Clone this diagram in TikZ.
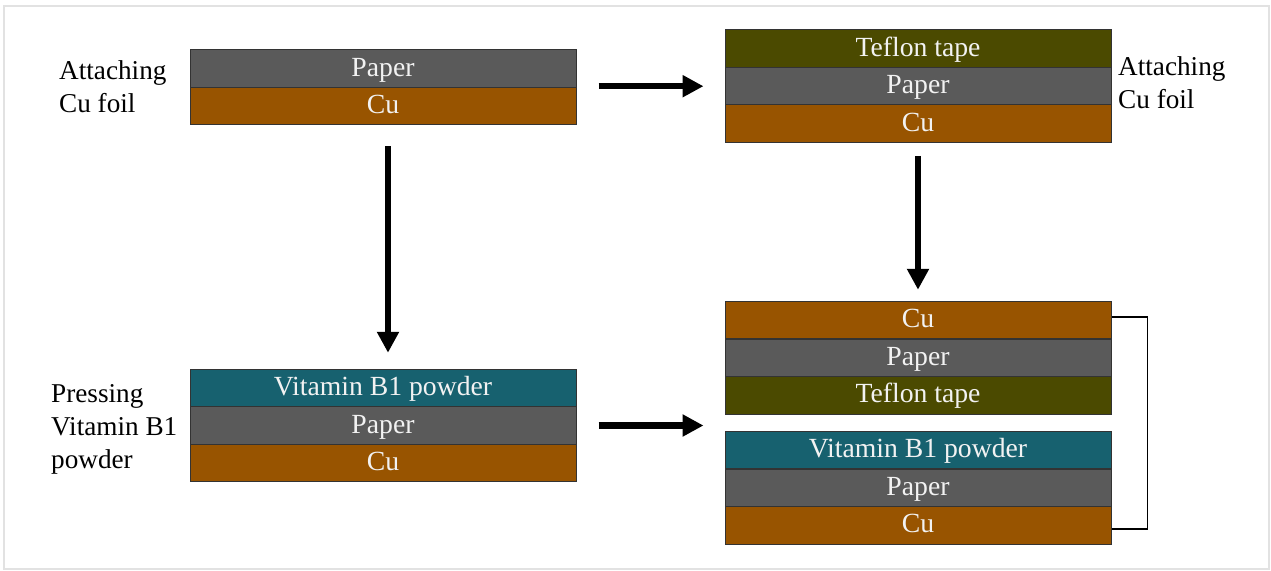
\documentclass[tikz,border=0pt]{standalone}
\usepackage{fontspec}
\setmainfont{Liberation Serif}
\usetikzlibrary{arrows.meta}
\definecolor{paperc}{HTML}{5A5A5A}
\definecolor{cuc}{HTML}{985400}
\definecolor{teflonc}{HTML}{4B4A00}
\definecolor{vitc}{HTML}{17616F}
\definecolor{framec}{HTML}{E2E2E2}
\begin{document}
\begin{tikzpicture}[x=1pt,y=-1pt,
  layer/.style={draw=black!80, line width=1pt, minimum width=386pt, minimum height=37.5pt,
    inner sep=0pt, text=white!95!black, font=\fontsize{27.7}{32}\selectfont,
    text height=18pt, text depth=3pt},
  paperl/.style={layer, fill=paperc},
  cul/.style={layer, fill=cuc},
  teflonl/.style={layer, fill=teflonc},
  vitl/.style={layer, fill=vitc},
  lbl/.style={anchor=north west, inner sep=0pt, align=left, font=\fontsize{27.2}{33}\selectfont},
  bigarrow/.style={line width=6.5pt, -{Triangle[length=21pt,width=21pt]}},
  bracket/.style={line width=1.8pt},
  framebox/.style={draw=framec, line width=1.2pt}]
\useasboundingbox (0,0) rectangle (1271,570);
\draw[framebox] (4,6) rectangle (1269,569);

% top-left stack
\node[paperl] (tlpaper) at (383,68.5) {Paper};
\node[cul] (tlcu) at (383,106) {Cu};
\node[lbl] (lblA) at (59,60.5) {Attaching\\Cu foil};

% top-right stack
\node[teflonl] (trteflon) at (918,48.6) {Teflon tape};
\node[paperl] (trpaper) at (918,86.2) {Paper};
\node[cul] (trcu) at (918,123.6) {Cu};
\node[lbl] (lblB) at (1118,56.6) {Attaching\\Cu foil};

% bottom-left stack
\node[vitl] (blvit) at (383,388) {Vitamin B1 powder};
\node[paperl] (blpaper) at (383,425.5) {Paper};
\node[cul] (blcu) at (383,463) {Cu};
\node[lbl] (lblC) at (51,384) {Pressing\\Vitamin B1\\powder};

% bottom-right upper stack
\node[cul] (dcu) at (918,320) {Cu};
\node[paperl] (dpaper) at (918,357.8) {Paper};
\node[teflonl] (dteflon) at (918,395.3) {Teflon tape};

% bottom-right lower stack
\node[vitl] (evit) at (918,450) {Vitamin B1 powder};
\node[paperl] (epaper) at (918,487.8) {Paper};
\node[cul] (ecu) at (918,525.3) {Cu};

% arrows
\draw[bigarrow, shorten <=22pt, shorten >=21pt] (trpaper.west -| tlcu.east) -- (trpaper.west);
\draw[bigarrow, shorten <=21pt, shorten >=16pt] ([xshift=5pt]tlcu.south) -- ([xshift=5pt]blvit.north);
\draw[bigarrow, shorten <=13pt, shorten >=11pt] (trcu.south) -- (dcu.north);
\draw[bigarrow, shorten <=22pt, shorten >=21pt] (blpaper.east) -- (blpaper.east -| dteflon.west);

% bracket
\draw[bracket] ([yshift=3pt]dcu.east) -- ++(36,0) |- ([yshift=-4pt]ecu.east);
\end{tikzpicture}
\end{document}
